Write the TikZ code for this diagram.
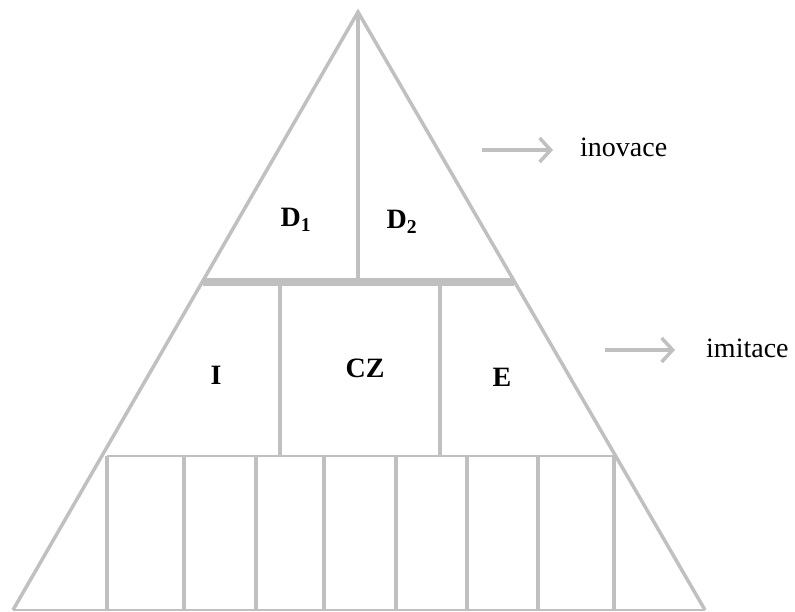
\documentclass[tikz,border=0pt]{standalone}
\usepackage{fontspec}
\setmainfont{Liberation Serif}
\usetikzlibrary{arrows.meta}
\definecolor{linegray}{RGB}{192,192,192}

\begin{document}
\begin{tikzpicture}[x=1pt,y=-1pt,
  edge/.style={draw=linegray,line width=3.5pt},
  thin edge/.style={draw=linegray,line width=2.5pt},
  bar/.style={draw=linegray,line width=8pt},
  lbl/.style={font=\fontsize{28}{32}\selectfont\bfseries,inner sep=0pt,anchor=base},
  word/.style={font=\fontsize{28}{32}\selectfont,inner sep=0pt,anchor=base west},
  arrow/.style={draw=linegray,line width=3.5pt,-{Straight Barb[length=11pt,width=24pt]}}
]
\useasboundingbox (0,0) rectangle (795,612);
\coordinate (top) at (358,12);
\coordinate (bl) at (13,610);
\coordinate (br) at (705,610);
% bottom row
\draw[thin edge] (107,456) -- (614,456);
\foreach \x in {107,184,256,324,396,467,538,614}
  \draw[edge] (\x,456) -- (\x,610);
% middle row
\draw[edge] (280,284) -- (280,456);
\draw[edge] (440,284) -- (440,456);
% top part
\draw[edge] (top) -- (358,280);
\draw[bar] (203,282) -- (514,282);
\draw[edge] (bl) -- (top) -- (br);
\draw[thin edge] (bl) -- (br);
% labels
\node[lbl] (d1) at (296,227) {D\textsubscript{1}};
\node[lbl] (d2) at (402,229) {D\textsubscript{2}};
\node[lbl] (i) at (216,384) {I};
\node[lbl] (cz) at (365,377) {CZ};
\node[lbl] (e) at (502,386) {E};
% arrows
\coordinate (inoA) at (482,150);
\coordinate (inoB) at (553,150);
\coordinate (imiA) at (605,350);
\coordinate (imiB) at (675,350);
\draw[arrow] (inoA) -- (inoB);
\draw[arrow] (imiA) -- (imiB);
\node[word] (inovace) at (580,157) {inovace};
\node[word] (imitace) at (706,357) {imitace};
\end{tikzpicture}
\end{document}
